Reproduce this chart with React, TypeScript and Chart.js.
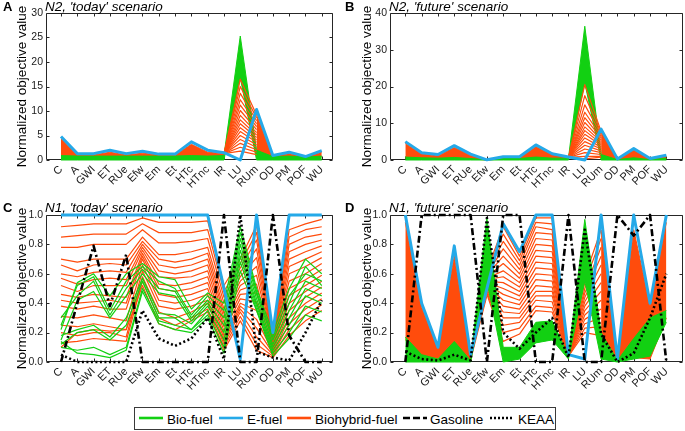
import React, { useEffect, useRef } from 'react';
import { Chart, registerables } from 'chart.js';

Chart.register(...registerables);

const FONT = '"Liberation Sans", Arial, Helvetica, sans-serif';
const GREEN = '#12d012';
const BLUE = '#25a9e8';
const ORANGE = '#ff4c0c';
const BLACK = '#000000';
const TXT = '#1a1a1a';

const categories = ['C', 'A', 'GWI', 'ET', 'RUe', 'Efw', 'Em', 'Et', 'HTc', 'HTnc', 'IR', 'LU', 'RUm', 'OD', 'PM', 'POF', 'WU'];
const legendLabels = ['Bio-fuel', 'E-fuel', 'Biohybrid-fuel', 'Gasoline', 'KEAA'];

// ---------- Panel A: N2, 'today' ----------
const aEfuel = [4.8, 1.3, 1.3, 2.0, 1.3, 1.8, 1.2, 1.2, 3.7, 2.0, 1.5, 0.0, 10.3, 0.9, 1.6, 0.7, 1.9];
const aHybHi = [4.3, 1.0, 1.0, 1.6, 1.0, 1.4, 1.0, 1.0, 3.2, 1.6, 1.3, null, 9.2, 0.8, 1.3, 0.6, 1.6];
const aHybLo = [0.6, 0.6, 0.6, 0.6, 0.6, 0.6, 0.6, 0.6, 0.6, 0.6, 0.6, null, 0.6, 0.5, 0.6, 0.5, 0.6];
const aBioHi = [0.9, 0.8, 0.8, 0.8, 0.8, 0.8, 0.8, 0.8, 0.9, 0.8, 0.9, 25.3, 2.0, 0.7, 0.8, 0.6, 0.8];
const aBioLo = [0, 0, 0, 0, 0, 0, 0, 0, 0, 0, 0, 16.8, 0, 0, 0, 0, 0];
const aFanLU = [16.5, 15.0, 13.6, 12.3, 11.2, 10.1, 9.1, 8.2, 7.4, 6.6, 5.8, 5.0, 4.2, 3.4, 2.6, 1.8];
const aFanRUm = [9.2, 8.6, 8.0, 7.4, 6.8, 6.2, 5.6, 5.1, 4.6, 4.1, 3.6, 3.1, 2.6, 2.1, 1.6, 1.1];

// ---------- Panel B: N2, 'future' ----------
const bEfuel = [5.0, 2.0, 1.5, 3.9, 1.6, 0.05, 0.9, 0.9, 4.1, 1.7, 0.8, 0.0, 8.4, 0.3, 3.1, 0.4, 1.3];
const bHybHi = [4.5, 1.6, 1.1, 3.4, 1.2, 0.05, 0.7, 0.7, 3.7, 1.4, 0.7, null, 7.8, 0.2, 2.7, 0.3, 1.0];
const bHybLo = [0.5, 0.4, 0.4, 0.5, 0.3, 0.0, 0.3, 0.3, 0.5, 0.4, 0.3, null, 0.8, 0.1, 0.4, 0.1, 0.4];
const bBioHi = [0.8, 0.6, 0.5, 0.7, 0.4, 0.05, 0.4, 0.4, 0.8, 0.5, 0.5, 36.4, 1.5, 0.1, 0.6, 0.1, 0.5];
const bBioLo = [0, 0, 0, 0, 0, 0, 0, 0, 0, 0, 0, 21.0, 0, 0, 0, 0, 0];
const bFanLU = [20.5, 17.5, 15.0, 13.0, 11.5, 10.2, 9.0, 8.0, 7.0, 6.0, 5.0, 4.0, 3.0, 2.0, 1.0, 0.3];
const bFanRUm = [7.8, 7.4, 7.0, 6.5, 6.0, 5.5, 5.0, 4.5, 4.0, 3.5, 3.0, 2.5, 2.0, 1.5, 1.0, 0.8];

// ---------- Panel C: N1, 'today' ----------
const cEfuel = [1, 1, 1, 1, 1, 1, 1, 1, 1, 1, 0.5, 0.02, 1, 0.2, 1, 1, 1];
const cGasoline = [0, 0.4, 0.79, 0.38, 0.73, 0, 0, 0, 0, 0, 1, 0, 0, 1, 0.18, 0, 0];
const cKeaa = [0.05, 0, 0, 0, 0, 0.35, 0.16, 0.11, 0.16, 0.3, 0.02, 1.0, 0.07, 0.03, 0.01, 0.2, 0.42];
const cHybLines = [
  [0.92, 0.93, 0.94, 0.94, 0.94, 0.98, 0.95, 0.95, 0.95, 0.96, 0.52, 0.70, 0.93, 0.18, 0.90, 0.94, 0.97],
  [0.85, 0.86, 0.87, 0.87, 0.87, 0.94, 0.88, 0.88, 0.88, 0.90, 0.48, 0.67, 0.88, 0.17, 0.85, 0.90, 0.92],
  [0.78, 0.78, 0.80, 0.80, 0.80, 0.90, 0.81, 0.81, 0.82, 0.84, 0.44, 0.64, 0.83, 0.16, 0.80, 0.85, 0.87],
  [0.70, 0.68, 0.70, 0.70, 0.70, 0.85, 0.73, 0.73, 0.75, 0.78, 0.40, 0.61, 0.77, 0.15, 0.75, 0.80, 0.83],
  [0.66, 0.62, 0.66, 0.67, 0.66, 0.82, 0.70, 0.68, 0.70, 0.74, 0.36, 0.58, 0.71, 0.14, 0.70, 0.75, 0.79],
  [0.60, 0.58, 0.61, 0.62, 0.61, 0.80, 0.66, 0.64, 0.66, 0.70, 0.33, 0.55, 0.65, 0.13, 0.65, 0.70, 0.75],
  [0.57, 0.53, 0.56, 0.57, 0.56, 0.78, 0.62, 0.60, 0.62, 0.66, 0.30, 0.52, 0.59, 0.12, 0.60, 0.65, 0.71],
  [0.52, 0.48, 0.52, 0.52, 0.52, 0.76, 0.58, 0.57, 0.58, 0.62, 0.27, 0.49, 0.53, 0.11, 0.55, 0.60, 0.67],
  [0.46, 0.44, 0.46, 0.45, 0.44, 0.74, 0.53, 0.52, 0.54, 0.58, 0.24, 0.46, 0.47, 0.10, 0.50, 0.56, 0.63],
  [0.42, 0.40, 0.41, 0.42, 0.40, 0.72, 0.50, 0.48, 0.50, 0.54, 0.21, 0.43, 0.41, 0.09, 0.45, 0.52, 0.59],
  [0.38, 0.36, 0.38, 0.36, 0.36, 0.70, 0.46, 0.44, 0.46, 0.50, 0.18, 0.40, 0.35, 0.08, 0.40, 0.48, 0.55],
  [0.31, 0.30, 0.32, 0.30, 0.28, 0.66, 0.42, 0.40, 0.42, 0.46, 0.16, 0.38, 0.29, 0.07, 0.35, 0.44, 0.51],
  [0.25, 0.24, 0.26, 0.24, 0.22, 0.62, 0.38, 0.36, 0.38, 0.42, 0.14, 0.36, 0.23, 0.06, 0.30, 0.40, 0.47],
  [0.20, 0.18, 0.20, 0.20, 0.17, 0.58, 0.34, 0.30, 0.34, 0.40, 0.12, 0.34, 0.17, 0.05, 0.26, 0.36, 0.43],
  [0.13, 0.14, 0.16, 0.15, 0.14, 0.55, 0.30, 0.25, 0.30, 0.36, 0.10, 0.31, 0.12, 0.04, 0.22, 0.32, 0.39],
  [0.10, 0.20, 0.22, 0.21, 0.22, 0.52, 0.26, 0.22, 0.28, 0.34, 0.08, 0.28, 0.08, 0.03, 0.18, 0.28, 0.35],
];
const cBioLines = [
  [0.22, 0.54, 0.60, 0.45, 0.60, 0.67, 0.58, 0.56, 0.36, 0.47, 0.40, 0.92, 0.50, 0.20, 0.50, 0.70, 0.60],
  [0.25, 0.52, 0.58, 0.35, 0.55, 0.65, 0.55, 0.50, 0.32, 0.45, 0.35, 0.88, 0.48, 0.17, 0.45, 0.60, 0.55],
  [0.30, 0.45, 0.55, 0.32, 0.50, 0.63, 0.50, 0.48, 0.30, 0.42, 0.30, 0.84, 0.46, 0.15, 0.40, 0.65, 0.52],
  [0.15, 0.42, 0.48, 0.30, 0.45, 0.60, 0.47, 0.45, 0.28, 0.40, 0.25, 0.80, 0.43, 0.12, 0.35, 0.55, 0.50],
  [0.18, 0.22, 0.25, 0.17, 0.30, 0.57, 0.33, 0.32, 0.26, 0.38, 0.20, 0.76, 0.40, 0.10, 0.30, 0.50, 0.45],
  [0.12, 0.20, 0.22, 0.15, 0.25, 0.55, 0.30, 0.30, 0.22, 0.35, 0.15, 0.72, 0.38, 0.08, 0.25, 0.45, 0.40],
  [0.10, 0.08, 0.10, 0.05, 0.10, 0.50, 0.28, 0.25, 0.22, 0.32, 0.10, 0.68, 0.36, 0.06, 0.20, 0.38, 0.34],
  [0.14, 0.06, 0.05, 0.03, 0.08, 0.48, 0.26, 0.22, 0.20, 0.30, 0.06, 0.62, 0.35, 0.04, 0.16, 0.32, 0.28],
];

// ---------- Panel D: N1, 'future' ----------
const dEfuel = [1.0, 0.4, 0.1, 0.79, 0.05, 0.5, 0.94, 0.75, 1.0, 1.0, 0.05, 0.02, 1.0, 0.02, 1.0, 0.4, 1.0];
const dGasoline = [0, 1, 1, 1, 1, 0, 1, 1, 0, 0, 1, 0, 0, 1, 0.86, 1, 0];
const dKeaa = [0.07, 0.02, 0.01, 0.05, 0.01, 0.98, 0.2, 0.09, 0.2, 0.3, 0.03, 0.9, 0.19, 0.0, 0.06, 0.3, 0.6];
const dHybHi = [0.95, 0.37, 0.09, 0.72, 0.04, 0.62, null, null, null, null, null, null, 0.9, 0.03, 0.9, 0.38, 0.95];
const dHybLo = [0.15, 0.04, 0.01, 0.12, 0.01, 0.45, null, null, null, null, null, null, 0.1, 0.01, 0.03, 0.02, 0.3];
const dBioHi = [0.17, 0.05, 0.02, 0.14, 0.01, 0.98, 0.1, 0.1, 0.27, 0.28, 0.04, 0.97, 0.2, 0.01, 0.16, 0.3, 0.35];
const dBioLo = [0.0, 0.0, 0.0, 0.0, 0.0, 0.55, 0.0, 0.02, 0.13, 0.15, 0.02, 0.55, 0.02, 0.0, 0.02, 0.04, 0.27];
// orange lines from Efw to IR: [Efw, Em, Et, HTc, HTnc, IR]
const dHybMid = [
  [0.62, 0.92, 0.72, 0.98, 0.98, 0.06],
  [0.61, 0.87, 0.69, 0.95, 0.94, 0.06],
  [0.61, 0.82, 0.66, 0.92, 0.90, 0.06],
  [0.60, 0.77, 0.63, 0.88, 0.87, 0.05],
  [0.59, 0.72, 0.60, 0.84, 0.83, 0.05],
  [0.58, 0.67, 0.57, 0.80, 0.79, 0.05],
  [0.57, 0.62, 0.54, 0.76, 0.75, 0.05],
  [0.56, 0.58, 0.51, 0.72, 0.71, 0.05],
  [0.55, 0.54, 0.48, 0.68, 0.67, 0.04],
  [0.54, 0.50, 0.45, 0.64, 0.63, 0.04],
  [0.53, 0.46, 0.42, 0.60, 0.59, 0.04],
  [0.52, 0.42, 0.39, 0.56, 0.55, 0.04],
  [0.51, 0.38, 0.36, 0.52, 0.51, 0.04],
  [0.50, 0.34, 0.33, 0.48, 0.48, 0.03],
  [0.49, 0.30, 0.30, 0.45, 0.45, 0.03],
  [0.48, 0.25, 0.27, 0.42, 0.41, 0.03],
  [0.47, 0.20, 0.23, 0.38, 0.37, 0.03],
  [0.46, 0.14, 0.19, 0.35, 0.34, 0.03],
];
const dFanIR = 0.04;
const dFanLU = [0.58, 0.54, 0.50, 0.47, 0.44, 0.41, 0.38, 0.35, 0.32, 0.29, 0.26, 0.23, 0.20];
const dFanRUm = [0.90, 0.84, 0.78, 0.72, 0.66, 0.60, 0.54, 0.48, 0.42, 0.36, 0.30, 0.24, 0.18];

// ---------- helpers ----------
type Val = number | null;
const pts = (arr: Val[], start = 0) => arr.map((y, i) => ({ x: start + i, y }));

function line(data: any[], color: string, width: number, order: number, extra: any = {}) {
  return {
    data,
    borderColor: color,
    backgroundColor: color,
    borderWidth: width,
    borderJoinStyle: 'round',
    pointRadius: 0,
    pointHoverRadius: 0,
    tension: 0,
    fill: false,
    clip: false,
    spanGaps: false,
    order,
    ...extra,
  };
}
function band(hi: Val[], lo: Val[], color: string, order: number) {
  return [line(pts(hi), color, 1, order, { fill: '+1' }), line(pts(lo), color, 1, order)];
}
const gasLine = (arr: Val[]) => line(pts(arr), BLACK, 2.6, 10, { borderDash: [7, 3, 2, 3] });
const keaaLine = (arr: Val[]) => line(pts(arr), BLACK, 2.6, 11, { borderDash: [2, 2.5] });
const blueLine = (arr: Val[]) => line(pts(arr), BLUE, 3, 20);

const framePlugin = {
  id: 'frame',
  beforeDatasetsDraw(chart: any) {
    const { ctx, chartArea } = chart;
    const l = Math.round(chartArea.left) + 0.5;
    const r = Math.round(chartArea.right) - 0.5;
    const t = Math.round(chartArea.top) + 0.5;
    const b = Math.round(chartArea.bottom) - 0.5;
    ctx.save();
    ctx.strokeStyle = '#262626';
    ctx.lineWidth = 1;
    ctx.beginPath();
    ctx.rect(l, t, r - l, b - t);
    const ys = chart.scales.y;
    ys.ticks.forEach((tk: any) => {
      const py = Math.round(ys.getPixelForValue(tk.value)) + 0.5;
      ctx.moveTo(l, py); ctx.lineTo(l + 3, py);
      ctx.moveTo(r, py); ctx.lineTo(r - 3, py);
    });
    const xs = chart.scales.x;
    xs.ticks.forEach((tk: any) => {
      const px = Math.round(xs.getPixelForValue(tk.value)) + 0.5;
      ctx.moveTo(px, b); ctx.lineTo(px, b - 3);
      ctx.moveTo(px, t); ctx.lineTo(px, t + 3);
    });
    ctx.stroke();
    ctx.restore();
  },
};

const textPlugin = (letter: string, title: string, baseY: number) => ({
  id: 'panelText',
  afterDraw(chart: any) {
    const { ctx, chartArea } = chart;
    ctx.save();
    ctx.fillStyle = '#000';
    ctx.textBaseline = 'alphabetic';
    ctx.textAlign = 'left';
    ctx.font = `bold 13px ${FONT}`;
    ctx.fillText(letter, 3, baseY - 0.5);
    ctx.font = `italic 13.5px ${FONT}`;
    ctx.fillText(title, chartArea.left - 1, baseY);
    ctx.restore();
  },
});

type Spec = {
  left: number; top: number; w: number; h: number;
  letter: string; title: string; titleY: number;
  ymax: number; ystep: number; decimals: number;
  xmin: number; xmax: number;
  padTop: number; padRight: number; yWidth: number; xHeight: number; titlePad: number;
  datasets: () => any[];
};

function buildConfig(s: Spec): any {
  return {
    type: 'line',
    data: { datasets: s.datasets() },
    options: {
      responsive: false,
      animation: false,
      devicePixelRatio: 1,
      events: [],
      layout: { padding: { left: 0, top: s.padTop, right: s.padRight, bottom: 0 } },
      plugins: { legend: { display: false }, tooltip: { enabled: false } },
      scales: {
        x: {
          type: 'linear',
          min: s.xmin,
          max: s.xmax,
          afterBuildTicks: (axis: any) => {
            axis.ticks = categories.map((_, i) => ({ value: i }));
          },
          afterFit: (sc: any) => { sc.height = s.xHeight; },
          ticks: {
            autoSkip: false,
            minRotation: 45,
            maxRotation: 45,
            padding: 3,
            color: TXT,
            font: { family: FONT, size: 11 },
            callback: (v: any) => categories[Math.round(Number(v))] ?? '',
          },
          grid: { display: false, drawTicks: false },
          border: { display: false },
        },
        y: {
          type: 'linear',
          min: 0,
          max: s.ymax,
          afterFit: (sc: any) => { sc.width = s.yWidth; },
          ticks: {
            stepSize: s.ystep,
            padding: 3,
            color: TXT,
            font: { family: FONT, size: 10.5 },
            callback: (v: any) => Number(v).toFixed(s.decimals),
          },
          grid: { display: false, drawTicks: false },
          border: { display: false },
          title: {
            display: true,
            text: 'Normalized objective value',
            color: '#000',
            font: { family: FONT, size: 13.5 },
            padding: { top: s.titlePad, bottom: 0 },
          },
        },
      },
    },
    plugins: [framePlugin, textPlugin(s.letter, s.title, s.titleY)],
  };
}

const specs: Spec[] = [
  {
    left: 0, top: 0, w: 342, h: 200, letter: 'A', title: "N2, 'today' scenario", titleY: 11,
    ymax: 30, ystep: 5, decimals: 0, xmin: -0.92, xmax: 16.69,
    padTop: 13, padRight: 9, yWidth: 46, xHeight: 40, titlePad: 14,
    datasets: () => [
      blueLine(aEfuel),
      ...aFanLU.map((lu, k) => line(pts([aHybHi[10], lu, aFanRUm[k]], 10), ORANGE, 1.2, 40)),
      ...band(aBioHi, aBioLo, GREEN, 50),
      ...band(aHybHi, aHybLo, ORANGE, 60),
    ],
  },
  {
    left: 342, top: 0, w: 343, h: 200, letter: 'B', title: "N2, 'future' scenario", titleY: 11,
    ymax: 40, ystep: 10, decimals: 0, xmin: -0.94, xmax: 17.02,
    padTop: 13, padRight: 2, yWidth: 48, xHeight: 40, titlePad: 17,
    datasets: () => [
      blueLine(bEfuel),
      ...bFanLU.map((lu, k) => line(pts([bHybHi[10], lu, bFanRUm[k]], 10), ORANGE, 1.2, 40)),
      ...band(bBioHi, bBioLo, GREEN, 50),
      ...band(bHybHi, bHybLo, ORANGE, 60),
    ],
  },
  {
    left: 0, top: 200, w: 342, h: 200, letter: 'C', title: "N1, 'today' scenario", titleY: 12,
    ymax: 1, ystep: 0.2, decimals: 1, xmin: -0.92, xmax: 16.69,
    padTop: 15, padRight: 9, yWidth: 46, xHeight: 38, titlePad: 14,
    datasets: () => [
      gasLine(cGasoline),
      keaaLine(cKeaa),
      blueLine(cEfuel),
      ...cBioLines.map((l) => line(pts(l), GREEN, 1.2, 30)),
      ...cHybLines.map((l) => line(pts(l), ORANGE, 1.2, 40)),
    ],
  },
  {
    left: 342, top: 200, w: 343, h: 200, letter: 'D', title: "N1, 'future' scenario", titleY: 12,
    ymax: 1, ystep: 0.2, decimals: 1, xmin: -0.94, xmax: 17.02,
    padTop: 15, padRight: 2, yWidth: 48, xHeight: 38, titlePad: 17,
    datasets: () => [
      gasLine(dGasoline),
      keaaLine(dKeaa),
      blueLine(dEfuel),
      ...band(dBioHi, dBioLo, GREEN, 30),
      ...dHybMid.map((l) => line(pts(l, 5), ORANGE, 1.2, 40)),
      ...dFanLU.map((lu, k) => line(pts([dFanIR, lu, dFanRUm[k]], 10), ORANGE, 1.2, 40)),
      ...band(dHybHi, dHybLo, ORANGE, 60),
    ],
  },
];

function Panel({ spec }: { spec: Spec }) {
  const ref = useRef<HTMLCanvasElement>(null);
  useEffect(() => {
    if (!ref.current) return;
    const chart = new Chart(ref.current, buildConfig(spec));
    return () => chart.destroy();
  }, [spec]);
  return (
    <canvas
      ref={ref}
      width={spec.w}
      height={spec.h}
      style={{ position: 'absolute', left: spec.left, top: spec.top, width: spec.w, height: spec.h }}
    />
  );
}

const legendColors = [GREEN, BLUE, ORANGE, BLACK, BLACK];
const legendDash = ['', '', '', '7,3', '2,2'];
const legendLineX = [4, 84, 152, 268, 355];
const legendTextX = [32, 112, 180, 295, 383];

function Legend() {
  return (
    <div
      style={{
        position: 'absolute', left: 134, top: 407, width: 422, height: 23,
        boxSizing: 'border-box', border: '1px solid #3a3a3a', background: '#fff',
        fontFamily: FONT, fontSize: 13.5, color: '#000',
      }}
    >
      {legendLabels.map((lab, i) => (
        <React.Fragment key={lab}>
          <svg style={{ position: 'absolute', left: legendLineX[i], top: 0 }} width={26} height={21}>
            <line x1={0} y1={10} x2={24} y2={10} stroke={legendColors[i]} strokeWidth={2.6}
              strokeDasharray={legendDash[i] || undefined} />
          </svg>
          <span style={{ position: 'absolute', left: legendTextX[i], top: 3.5, lineHeight: '16px', whiteSpace: 'nowrap' }}>
            {lab}
          </span>
        </React.Fragment>
      ))}
    </div>
  );
}

export default function App() {
  return (
    <div style={{ position: 'fixed', left: 0, top: 0, width: 685, height: 431, background: '#fff', overflow: 'hidden' }}>
      {specs.map((s) => (
        <Panel key={s.letter} spec={s} />
      ))}
      <Legend />
    </div>
  );
}
